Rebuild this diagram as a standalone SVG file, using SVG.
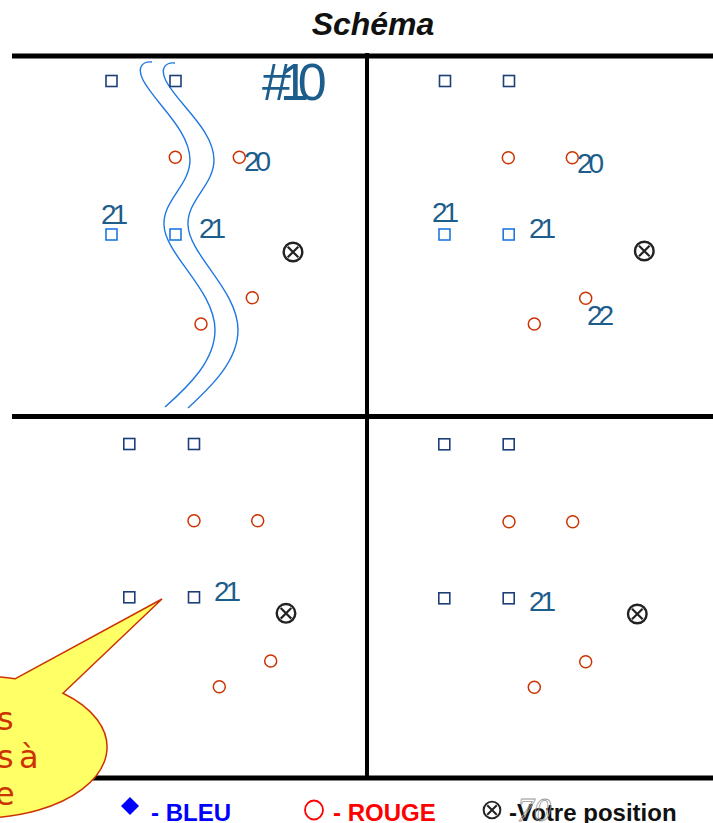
<svg xmlns="http://www.w3.org/2000/svg" xmlns:xlink="http://www.w3.org/1999/xlink" width="713" height="823" viewBox="0 0 713 823">
<style>
.sq{fill:#fff;stroke:#1c3f78;stroke-width:1.6}
.sql{fill:#fff;stroke:#1f78e0;stroke-width:1.6}
.rc{fill:none;stroke:#cc3300;stroke-width:1.5}
.num{font-family:"Liberation Sans",Arial,sans-serif;font-size:28px;fill:#1d5d8c;letter-spacing:-4px}
.river{fill:none;stroke:#1f78e0;stroke-width:1.4}
.grid{stroke:#000;fill:none}
.leg{font-family:"Liberation Sans",Arial,sans-serif;font-size:24px;font-weight:bold}
</style>
<defs>
<g id="pos"><circle r="9.3" fill="#fff" stroke="#222" stroke-width="2.4"/><path d="M-5.3,-5.3 L5.3,5.3 M5.3,-5.3 L-5.3,5.3" stroke="#222" stroke-width="2.2"/></g>
</defs>
<rect width="713" height="823" fill="#fff"/>
<text x="373" y="35" text-anchor="middle" font-family="'Liberation Sans',Arial,sans-serif" font-size="32" font-weight="bold" font-style="italic" fill="#111">Schéma</text>

<g id="connectors">
<line class="grid" x1="12" y1="56" x2="713" y2="56" stroke-width="5"/>
<line class="grid" x1="12" y1="416.5" x2="713" y2="416.5" stroke-width="5"/>
<line class="grid" x1="12" y1="778" x2="713" y2="778" stroke-width="5"/>
<line class="grid" x1="367" y1="53" x2="367" y2="778" stroke-width="4"/>
</g>

<g id="quadrant-tl">
<path class="river" d="M152,62 C144,61 136,66 143,80 C155,103 190,130 190,160 C190,185 163,200 164,225 C165,255 215,290 215,330 C215,360 190,385 165,407"/>
<path class="river" d="M175,63 C167,62 159,67 166,81 C178,104 214,130 214,160 C214,185 187,200 188,225 C189,255 238,290 238,330 C238,360 213,385 188,408"/>
<rect class="sq" x="106" y="75.5" width="11" height="11"/>
<rect class="sq" x="170" y="75.5" width="11" height="11"/>
<rect class="sql" x="106" y="229" width="11" height="11"/>
<rect class="sql" x="170" y="229" width="11" height="11"/>
<circle class="rc" cx="175.3" cy="157.3" r="6"/>
<circle class="rc" cx="239.3" cy="157.3" r="6"/>
<circle class="rc" cx="252.3" cy="297.7" r="6"/>
<circle class="rc" cx="201" cy="324" r="6"/>
<use xlink:href="#pos" x="293" y="252"/>
<text class="num" x="262" y="100" style="font-size:52px;letter-spacing:-11px">#10</text>
<text class="num" x="244" y="171">20</text>
<text class="num" x="101" y="224">21</text>
<text class="num" x="199" y="238">21</text>
</g>

<g id="quadrant-tr">
<rect class="sq" x="439.5" y="75.5" width="11" height="11"/>
<rect class="sq" x="503.5" y="75.5" width="11" height="11"/>
<rect class="sql" x="439" y="229" width="11" height="11"/>
<rect class="sql" x="503.2" y="229" width="11" height="11"/>
<circle class="rc" cx="508.3" cy="157.7" r="6"/>
<circle class="rc" cx="572.3" cy="157.7" r="6"/>
<circle class="rc" cx="585.7" cy="298.3" r="6"/>
<circle class="rc" cx="534.3" cy="324" r="6"/>
<use xlink:href="#pos" x="644.3" y="251"/>
<text class="num" x="577" y="173">20</text>
<text class="num" x="432" y="222">21</text>
<text class="num" x="529" y="238">21</text>
<text class="num" x="587" y="325">22</text>
</g>

<g id="quadrant-bl">
<rect class="sq" x="123.8" y="438.5" width="11" height="11"/>
<rect class="sq" x="188.5" y="438.5" width="11" height="11"/>
<rect class="sq" x="123.8" y="591.8" width="11" height="11"/>
<rect class="sq" x="188.5" y="591.8" width="11" height="11"/>
<circle class="rc" cx="194" cy="520.7" r="6"/>
<circle class="rc" cx="257.7" cy="520.7" r="6"/>
<circle class="rc" cx="270.7" cy="661" r="6"/>
<circle class="rc" cx="219.3" cy="686.7" r="6"/>
<use xlink:href="#pos" x="286" y="613.3"/>
<text class="num" x="214" y="601">21</text>
</g>

<g id="quadrant-br">
<rect class="sq" x="438.8" y="438.8" width="11" height="11"/>
<rect class="sq" x="503.2" y="438.8" width="11" height="11"/>
<rect class="sq" x="438.8" y="592.8" width="11" height="11"/>
<rect class="sq" x="503.2" y="592.8" width="11" height="11"/>
<circle class="rc" cx="509" cy="521.7" r="6"/>
<circle class="rc" cx="572.7" cy="521.7" r="6"/>
<circle class="rc" cx="585.7" cy="661.7" r="6"/>
<circle class="rc" cx="534.3" cy="687.3" r="6"/>
<use xlink:href="#pos" x="637.3" y="614"/>
<text class="num" x="529" y="611">21</text>
</g>

<g id="callout">
<path d="M15,678.8 L162,599 L63,693.3 A127,71 0 1 1 15,678.8 Z" fill="#ffff66" stroke="#cc3300" stroke-width="1.5"/>
<g font-family="'Comic Sans MS','DejaVu Sans',sans-serif" font-size="32" fill="#cc3300">
<text x="-3" y="730">s</text>
<text x="-3 9 19" y="768">s à</text>
<text x="-5" y="805">e</text>
</g>
</g>

<g id="legend">
<polygon points="130,797 139,806 130,815 121,806" fill="#0000ff"/>
<text class="leg" x="151" y="821" fill="#0000ff">- BLEU</text>
<ellipse cx="314" cy="810" rx="9" ry="9.5" fill="none" stroke="#ff0000" stroke-width="1.8"/>
<text class="leg" x="333" y="821" fill="#ff0000">- ROUGE</text>
<g transform="translate(492,810) scale(0.9)"><circle r="9.3" fill="none" stroke="#222" stroke-width="2.2"/><path d="M-5.3,-5.3 L5.3,5.3 M5.3,-5.3 L-5.3,5.3" stroke="#222" stroke-width="2.2"/></g>
<text class="leg" x="509" y="821" fill="#111">-Votre position</text>
<text x="517" y="821" font-family="'Liberation Serif','Times New Roman',serif" font-style="italic" font-size="34" fill="none" stroke="#999" stroke-width="0.8">70</text>
</g>
</svg>
